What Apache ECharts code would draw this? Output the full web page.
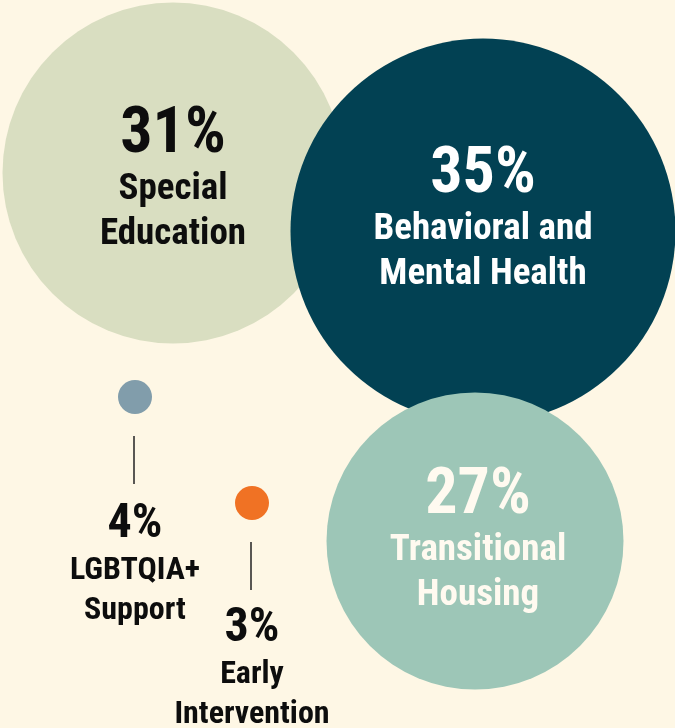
<!DOCTYPE html>
<html>
<head>
<meta charset="utf-8">
<script src="https://cdn.jsdelivr.net/npm/echarts@6/dist/echarts.min.js"></script>
<style>
  html, body { margin: 0; padding: 0; background: #fef7e5; }
  #main { width: 675px; height: 728px; }
</style>
</head>
<body>
<div id="main"></div>
<script>
    var categories = ['Special Education', 'Behavioral and Mental Health', 'Transitional Housing', 'LGBTQIA+ Support', 'Early Intervention'];
    var labelLines = [['Special', 'Education'], ['Behavioral and', 'Mental Health'], ['Transitional', 'Housing'], ['LGBTQIA+', 'Support'], ['Early', 'Intervention']];
    var shares = [31, 35, 27, 4, 3];

    // layout of the bubbles, in page pixels
    var centers = [[173, 173], [483, 231], [475, 541], [135, 397], [252, 503]];
    var colors = ['#d9dec1', '#024153', '#9dc6b7', '#819dab', '#f07224'];
    var textColors = ['#0d0d0d', '#ffffff', '#fffaf0', '#0d0d0d', '#0d0d0d'];
    var labelOffsets = [[0, 8], [0, -10], [3, 1], [0, 168], [0, 166]];

    var font = "'Roboto Condensed', 'Liberation Sans Narrow', 'DejaVu Sans Condensed', Roboto, sans-serif";

    var myChart = echarts.init(document.getElementById('main'));

    var bubbleSize = function(i) {
        // big bubbles scale with the share, the small ones are just markers
        return shares[i] > 10 ? shares[i] * 11 : 34;
    }

    var data = categories.map(function(name, i) {
        var big = shares[i] > 10;
        return {
            name: name,
            value: [centers[i][0], centers[i][1], shares[i]],
            symbolSize: bubbleSize(i),
            itemStyle: { color: colors[i], opacity: 1 },
            label: {
                show: true,
                position: 'inside',
                offset: labelOffsets[i],
                formatter: '{p|' + shares[i] + '%}\n{n|' + labelLines[i].join('}\n{n|') + '}',
                rich: {
                    p: {
                        fontFamily: font,
                        fontWeight: 'bold',
                        fontSize: big ? 64 : 48,
                        lineHeight: big ? 62 : 52,
                        color: textColors[i],
                        align: 'center'
                    },
                    n: {
                        fontFamily: font,
                        fontWeight: 'bold',
                        fontSize: big ? 37 : 32,
                        lineHeight: big ? 45 : 40,
                        color: textColors[i],
                        align: 'center'
                    }
                }
            }
        };
    });

    var option = {
        backgroundColor: '#fef7e5',
        animation: false,
        grid: { left: 0, right: 0, top: 0, bottom: 0 },
        xAxis: { type: 'value', min: 0, max: 675, show: false },
        yAxis: { type: 'value', min: 0, max: 728, inverse: true, show: false },
        series: [{
            type: 'scatter',
            symbol: 'circle',
            data: data,
            emphasis: { disabled: true },
            markLine: {
                silent: true,
                symbol: 'none',
                label: { show: false },
                lineStyle: { color: '#222222', width: 1.5, type: 'solid', opacity: 1 },
                data: [
                    [{ coord: [134, 436] }, { coord: [134, 484] }],
                    [{ coord: [251, 542] }, { coord: [251, 590] }]
                ]
            }
        }]
    };

    myChart.setOption(option);
</script>
</body>
</html>
